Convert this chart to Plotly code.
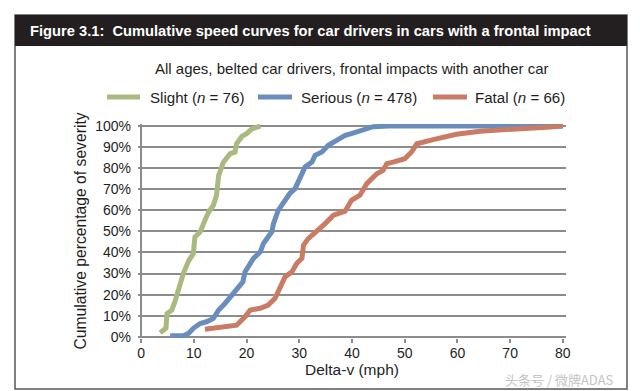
import plotly.graph_objects as go

# ---- data ----
slight_v = [3.6, 4.7, 4.9, 5.8, 6.4, 7.4, 8.0, 9.0, 9.9, 10.2, 11.2, 12.1, 12.8, 13.7, 14.3, 14.7,
            15.6, 16.9, 17.8, 18.1, 19.1, 20.0, 21.0, 22.6]
slight_p = [1.9, 4.0, 11.0, 12.6, 16.6, 25.3, 30.0, 36.0, 39.5, 47.4, 49.8, 55.3, 59.2, 62.4, 67.2, 76.6,
            82.9, 86.9, 87.7, 91.6, 95.1, 96.4, 98.7, 100]

serious_v = [5.5, 8.0, 9.0, 9.9, 11.2, 12.4, 13.7, 14.7, 15.9, 17.2, 18.4, 19.3, 19.7, 21.3, 22.6, 23.2,
             24.8, 25.1, 26.0, 27.3, 28.2, 29.2, 30.1, 31.1, 32.4, 33.0, 34.3, 35.5, 37.1, 38.7, 40.2,
             42.1, 44.0, 47.0, 80.0]
serious_p = [0.5, 0.5, 1.6, 4.0, 6.3, 7.1, 8.7, 12.7, 15.8, 19.8, 23.7, 26.1, 30.8, 37.2, 40.3, 44.3,
             49.8, 53.7, 60.0, 64.8, 68.0, 70.3, 75.0, 80.6, 82.9, 86.1, 87.7, 90.9, 93.2, 95.6, 96.7,
             98.4, 99.7, 100, 100]

fatal_v = [12.1, 14.3, 18.1, 19.7, 20.7, 22.6, 24.1, 25.4, 26.4, 27.3, 28.6, 29.5, 30.5, 30.8, 31.7,
           33.3, 34.9, 36.5, 38.7, 39.9, 41.5, 42.8, 44.7, 45.9, 46.6, 47.8, 50.0, 51.3, 52.3, 55.4,
           59.8, 64.3, 70.6, 76.9, 80.0]
fatal_p = [3.6, 4.4, 5.5, 9.5, 12.7, 13.5, 15.0, 18.2, 23.7, 28.4, 30.8, 34.8, 37.2, 43.5, 46.6,
           49.8, 53.7, 57.7, 59.6, 64.8, 67.2, 72.7, 77.4, 79.0, 82.2, 82.9, 84.5, 87.7, 91.6, 93.6,
           96.1, 97.6, 98.8, 99.5, 100]

series_names = ["Slight (<i>n</i> = 76)", "Serious (<i>n</i> = 478)", "Fatal (<i>n</i> = 66)"]
series_colors = ["#a9ba80", "#6a8dc0", "#c97b64"]

x_ticks = [0, 10, 20, 30, 40, 50, 60, 70, 80]
y_ticks = [0, 10, 20, 30, 40, 50, 60, 70, 80, 90, 100]
y_tick_labels = [f"{v}%" for v in y_ticks]

title_text = "Figure 3.1:\u00a0 Cumulative speed curves for car drivers in cars with a frontal impact"
subtitle_text = "All ages, belted car drivers, frontal impacts with another car"
x_title = "Delta-v (mph)"
y_title = "Cumulative percentage of severity"
watermark = "头条号 / 微牌ADAS"

# ---- layout geometry ----
WIDTH, HEIGHT = 640, 391
L, R, T, B = 138, 74, 124, 53
PW = WIDTH - L - R
PH = HEIGHT - T - B


def px(xp):
    return (xp - L) / PW


def py(yp):
    return (HEIGHT - B - yp) / PH


FONT = "Liberation Sans, Arial, Helvetica, sans-serif"
GRID = "#8c8c8c"
TXT = "#1e1e1e"

fig = go.Figure()
for xs, ys, name, col in zip([slight_v, serious_v, fatal_v], [slight_p, serious_p, fatal_p],
                             series_names, series_colors):
    fig.add_trace(go.Scatter(x=xs, y=ys, mode="lines", name=name, showlegend=False,
                             line=dict(color=col, width=5, shape="linear")))

fig.update_layout(
    width=WIDTH, height=HEIGHT,
    margin=dict(l=L, r=R, t=T, b=B, autoexpand=False),
    paper_bgcolor="white", plot_bgcolor="white",
    font=dict(family=FONT, size=14, color=TXT),
    showlegend=False,
    xaxis=dict(range=[-0.6, 80.6], tickvals=x_ticks, ticktext=[str(v) for v in x_ticks],
               showgrid=False, zeroline=True, zerolinecolor=GRID, zerolinewidth=2,
               showline=False, ticks="outside", ticklen=4, tickwidth=2, tickcolor=GRID,
               automargin=False, ticklabelstandoff=-2,
               tickfont=dict(size=14), title=dict(text=x_title, font=dict(size=15.5), standoff=0)),
    yaxis=dict(range=[-0.6, 101], tickvals=y_ticks, ticktext=y_tick_labels,
               showgrid=True, gridcolor=GRID, gridwidth=2,
               zeroline=True, zerolinecolor=GRID, zerolinewidth=2,
               showline=False, ticks="", ticklabelstandoff=6, automargin=False,
               tickfont=dict(size=14), title=dict(text=y_title, font=dict(size=15.7), standoff=4)),
)

# frame and title bar
fig.add_shape(type="rect", xref="paper", yref="paper",
              x0=px(15), x1=px(627), y0=py(389), y1=py(15),
              line=dict(color="#555555", width=1.5), fillcolor="rgba(0,0,0,0)", layer="below")
fig.add_shape(type="rect", xref="paper", yref="paper",
              x0=px(15), x1=px(627), y0=py(46), y1=py(15),
              line=dict(width=0), fillcolor="#231f20", layer="above")

fig.add_annotation(text="<b>" + title_text + "</b>", xref="paper", yref="paper",
                   x=px(28), y=py(31), xanchor="left", yanchor="middle", showarrow=False,
                   font=dict(family=FONT, size=14.7, color="white"))
fig.add_annotation(text=subtitle_text, xref="paper", yref="paper",
                   x=px(352), y=py(68), xanchor="center", yanchor="middle", showarrow=False,
                   font=dict(family=FONT, size=15, color=TXT))
fig.add_annotation(text=watermark, xref="paper", yref="paper",
                   x=px(503), y=py(379), xanchor="left", yanchor="middle", showarrow=False,
                   font=dict(family="Noto Sans CJK SC", size=13, color="#c4c4c4"))

# legend (drawn by hand so that it sits on one row, as in the reference)
legend_line_x = [(107, 140), (258, 292), (433, 467)]
legend_text_x = [148, 299, 473]
LEG_Y = 97
for (x0, x1), tx, name, col in zip(legend_line_x, legend_text_x, series_names, series_colors):
    fig.add_shape(type="line", xref="paper", yref="paper",
                  x0=px(x0), x1=px(x1), y0=py(LEG_Y), y1=py(LEG_Y),
                  line=dict(color=col, width=5))
    fig.add_annotation(text=name, xref="paper", yref="paper",
                       x=px(tx), y=py(LEG_Y), xanchor="left", yanchor="middle", showarrow=False,
                       font=dict(family=FONT, size=15.1, color=TXT))

fig.write_html("out.html", config={"displayModeBar": False},
               post_script="document.body.style.margin='0';")
